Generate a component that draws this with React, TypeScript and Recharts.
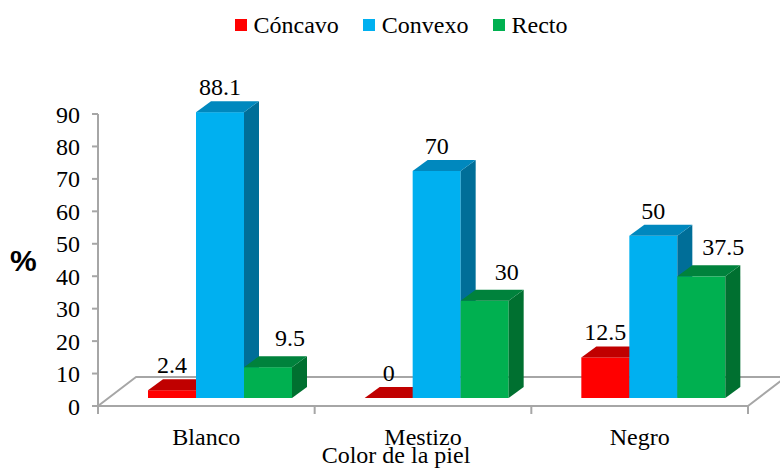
import { BarChart, Bar, XAxis, YAxis, Legend, LabelList, ReferenceArea } from 'recharts';

const categories = ['Blanco', 'Mestizo', 'Negro'];
const concavo = [2.4, 0, 12.5];
const convexo = [88.1, 70, 50];
const recto = [9.5, 30, 37.5];
const yTicks = [0, 10, 20, 30, 40, 50, 60, 70, 80, 90];
const seriesNames = ['Cóncavo', 'Convexo', 'Recto'];

const data = categories.map((color, i) => ({
  color,
  concavo: concavo[i],
  convexo: convexo[i],
  recto: recto[i],
}));

const W = 780;
const H = 468;
const MARGIN = { top: 114, right: 32, bottom: 0, left: 0 };
const Y_AXIS_W = 98;
const X_AXIS_H = 62;
const FONT = '"Liberation Serif", "Times New Roman", serif';
const LINE = '#A6A6A6';

// bars stand a little behind the front edge of the floor
const BAR_DX = 14;
const BAR_DY = -8;
// extrusion of every box
const DEPTH_X = 15;
const DEPTH_Y = -11;
// depth of the floor plate
const FLOOR_DX = 38;
const FLOOR_DY = -29;

const BAND = (W - MARGIN.left - Y_AXIS_W - MARGIN.right) / categories.length;

const COLORS = {
  concavo: { front: '#FF0000', top: '#C00000', side: '#A00000' },
  convexo: { front: '#00B0F0', top: '#0088BE', side: '#006E98' },
  recto: { front: '#00B050', top: '#00823C', side: '#007030' },
};

const pts = (arr: number[][]) => arr.map((p) => p.join(',')).join(' ');

function makeBox(c: { front: string; top: string; side: string }) {
  return (props: any) => {
    const { x, y, width, height } = props;
    if (x == null || y == null) return null;
    const fx = x + BAR_DX;
    const fy = y + BAR_DY;
    const w = width;
    const h = Math.max(height || 0, 0);
    return (
      <g>
        <rect x={fx} y={fy} width={w} height={h} fill={c.front} />
        <polygon
          points={pts([
            [fx + w, fy],
            [fx + w + DEPTH_X, fy + DEPTH_Y],
            [fx + w + DEPTH_X, fy + h + DEPTH_Y],
            [fx + w, fy + h],
          ])}
          fill={c.side}
        />
        <polygon
          points={pts([
            [fx, fy],
            [fx + w, fy],
            [fx + w + DEPTH_X, fy + DEPTH_Y],
            [fx + DEPTH_X, fy + DEPTH_Y],
          ])}
          fill={c.top}
        />
      </g>
    );
  };
}

function makeLabel(shift: number, lift: number) {
  return (props: any) => {
    const { x, y, width, value } = props;
    if (x == null || y == null) return null;
    return (
      <text
        x={x + BAR_DX + width / 2 + shift}
        y={y + BAR_DY - lift}
        textAnchor="middle"
        fontFamily={FONT}
        fontSize={24}
        fill="#000"
      >
        {value}
      </text>
    );
  };
}

const Floor = (props: any) => {
  const { x, y, width, height } = props;
  const by = y + height;
  return (
    <polygon
      points={pts([
        [x, by],
        [x + width, by],
        [x + width + FLOOR_DX, by + FLOOR_DY],
        [x + FLOOR_DX, by + FLOOR_DY],
      ])}
      fill="#fff"
      stroke={LINE}
      strokeWidth={2}
      strokeLinejoin="round"
    />
  );
};

const CategoryTick = (props: any) => {
  const { x, y, payload, index } = props;
  const half = BAND / 2;
  return (
    <g>
      <line x1={x - half} y1={y} x2={x - half} y2={y + 8} stroke={LINE} strokeWidth={2} />
      {index === categories.length - 1 && (
        <line x1={x + half} y1={y} x2={x + half} y2={y + 8} stroke={LINE} strokeWidth={2} />
      )}
      <text x={x} y={y + 39} textAnchor="middle" fontFamily={FONT} fontSize={24} fill="#000">
        {payload.value}
      </text>
    </g>
  );
};

const AxisTitle = (props: any) => {
  const vb = props.viewBox || { x: Y_AXIS_W, y: H - X_AXIS_H, width: BAND * 3 };
  return (
    <text
      x={vb.x + vb.width / 2 - 27}
      y={vb.y + 57}
      textAnchor="middle"
      fontFamily={FONT}
      fontSize={24}
      fill="#000"
    >
      Color de la piel
    </text>
  );
};

const LegendContent = () => {
  const keys = ['concavo', 'convexo', 'recto'] as const;
  return (
    <div
      style={{
        display: 'flex',
        justifyContent: 'center',
        alignItems: 'center',
        height: 24,
        paddingLeft: 22,
        fontFamily: FONT,
        fontSize: 24,
        lineHeight: '24px',
        color: '#000',
      }}
    >
      {keys.map((k, i) => (
        <span key={k} style={{ display: 'flex', alignItems: 'center', marginLeft: i ? 24 : 0 }}>
          <span style={{ width: 12, height: 12, background: COLORS[k].front, marginRight: 7 }} />
          {seriesNames[i]}
        </span>
      ))}
    </div>
  );
};

export default function App() {
  return (
    <div style={{ position: 'absolute', left: 0, top: 0, width: W, height: H, background: '#fff' }}>
      <BarChart width={W} height={H} data={data} margin={MARGIN} barCategoryGap={36} barGap={0}>
        <XAxis
          dataKey="color"
          height={X_AXIS_H}
          interval={0}
          axisLine={false}
          tickLine={false}
          tickSize={0}
          tickMargin={0}
          tick={<CategoryTick />}
          label={<AxisTitle />}
        />
        <YAxis
          width={Y_AXIS_W}
          domain={[0, 90]}
          ticks={yTicks}
          interval={0}
          tickSize={6}
          tickMargin={12}
          axisLine={{ stroke: LINE, strokeWidth: 2 }}
          tickLine={{ stroke: LINE, strokeWidth: 2 }}
          tick={{ fontSize: 24, fill: '#000', fontFamily: FONT }}
          label={{
            value: '%',
            position: 'insideLeft',
            offset: 10,
            fontSize: 30,
            fontWeight: 700,
            fontFamily: '"Liberation Sans", Arial, sans-serif',
            fill: '#000',
          }}
        />
        <Legend
          layout="horizontal"
          verticalAlign="middle"
          align="center"
          wrapperStyle={{ top: 13, left: 0, width: W }}
          content={<LegendContent />}
        />
        <ReferenceArea x1="Blanco" x2="Negro" ifOverflow="visible" shape={<Floor />} />
        <Bar dataKey="concavo" name="Cóncavo" fill={COLORS.concavo.front} shape={makeBox(COLORS.concavo)} isAnimationActive={false}>
          <LabelList dataKey="concavo" content={makeLabel(0, 17)} />
        </Bar>
        <Bar dataKey="convexo" name="Convexo" fill={COLORS.convexo.front} shape={makeBox(COLORS.convexo)} isAnimationActive={false}>
          <LabelList dataKey="convexo" content={makeLabel(0, 17)} />
        </Bar>
        <Bar dataKey="recto" name="Recto" fill={COLORS.recto.front} shape={makeBox(COLORS.recto)} isAnimationActive={false}>
          <LabelList dataKey="recto" content={makeLabel(22, 21)} />
        </Bar>
      </BarChart>
    </div>
  );
}
